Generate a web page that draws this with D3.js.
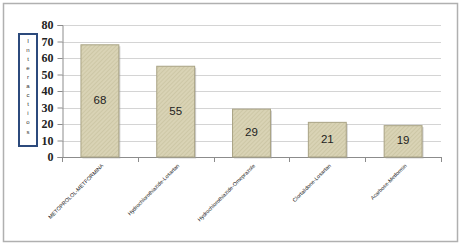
<!DOCTYPE html>
<html><head><meta charset="utf-8">
<script src="https://cdn.jsdelivr.net/npm/d3@7"></script>
<style>body{margin:0;background:#fff}svg{display:block}</style>
</head><body>
<script>
const categories = ["METOPROLOL-METFORMINA","Hydrochlorothiazide-Losartan","Hydrochlorothiazide-Omeprazole","Clortalidone-Losartan","Acarbose-Metformin"];
const values = [68, 55, 29, 21, 19];
const yTicks = [0,10,20,30,40,50,60,70,80];
const yLabelLetters = ["I","n","t","e","r","a","c","t","i","o","s"];

const W=461,H=246;
const svg=d3.select("body").append("svg").attr("width",W).attr("height",H);
const defs=svg.append("defs");
const pat=defs.append("pattern").attr("id","hatch").attr("patternUnits","userSpaceOnUse").attr("width",3).attr("height",3).attr("patternTransform","rotate(45)");
pat.append("rect").attr("width",3).attr("height",3).attr("fill","#d9d3b5");
pat.append("line").attr("x1",0).attr("y1",0).attr("x2",0).attr("y2",3).attr("stroke","#c2bb98").attr("stroke-width",1);

svg.append("rect").attr("x",3.5).attr("y",3.5).attr("width",454).attr("height",238).attr("fill","#fff").attr("stroke","#b0b0b0").attr("stroke-width",1.5);

const x0=62,x1=441,yTop=25,yBot=157;
const x=d3.scaleBand().domain(categories).range([x0,x1]).paddingInner(0.5).paddingOuter(0.25);
const y=d3.scaleLinear().domain([0,80]).range([yBot,yTop]);

// gridlines
svg.append("g").selectAll("line").data(yTicks.filter(d=>d>0)).join("line")
  .attr("x1",x0).attr("x2",x1).attr("y1",d=>Math.round(y(d))+0.5).attr("y2",d=>Math.round(y(d))+0.5)
  .attr("stroke","#d4d4d4").attr("stroke-width",1);

// y axis
const ya=svg.append("g").attr("transform",`translate(${x0+0.5},0)`)
  .call(d3.axisLeft(y).tickValues(yTicks).tickSize(5).tickPadding(4));
ya.select(".domain").attr("stroke","#8c8c8c");
ya.selectAll(".tick line").attr("stroke","#8c8c8c");
ya.selectAll(".tick text").attr("font-family","Liberation Serif, serif").attr("font-size",12).attr("font-weight","bold").attr("fill","#222");

// x axis baseline and category ticks
const xa=svg.append("g");
xa.append("line").attr("x1",x0).attr("x2",x1).attr("y1",yBot+0.5).attr("y2",yBot+0.5).attr("stroke","#8c8c8c");
const bounds=categories.map((c,i)=>x(c)-x.bandwidth()*0.5).concat([x1]);
xa.selectAll("line.t").data(bounds).join("line").attr("class","t")
  .attr("x1",d=>Math.round(d)+0.5).attr("x2",d=>Math.round(d)+0.5).attr("y1",yBot).attr("y2",yBot+5).attr("stroke","#8c8c8c");

// bars shadow
svg.append("g").selectAll("rect").data(values).join("rect")
  .attr("x",(d,i)=>x(categories[i])+1.5).attr("y",d=>y(d)+1.5)
  .attr("width",x.bandwidth()).attr("height",d=>yBot-y(d))
  .attr("fill","#9a9a9a").attr("opacity",0.45);
svg.append("g").selectAll("rect").data(values).join("rect")
  .attr("x",(d,i)=>x(categories[i])).attr("y",d=>y(d))
  .attr("width",x.bandwidth()).attr("height",d=>yBot-y(d))
  .attr("fill","url(#hatch)").attr("stroke","#a9a384").attr("stroke-width",1);

// data labels
svg.append("g").selectAll("text").data(values).join("text")
  .attr("x",(d,i)=>x(categories[i])+x.bandwidth()/2)
  .attr("y",d=>(y(d)+yBot)/2)
  .attr("text-anchor","middle").attr("dominant-baseline","middle")
  .attr("font-family","Liberation Sans, Arial, sans-serif").attr("font-size",11.5).attr("fill","#222")
  .text(d=>d);

// x labels rotated
svg.append("g").attr("opacity",0.99).selectAll("text").data(categories).join("text")
  .attr("transform",c=>`translate(${x(c)+x.bandwidth()/2+3},${yBot+8}) rotate(-45)`)
  .attr("text-anchor","end").attr("dominant-baseline","middle")
  .attr("font-family","Liberation Sans, Arial, sans-serif").attr("font-size",5.4).attr("fill","#222")
  .text(c=>c);

// y label box
svg.append("rect").attr("x",19).attr("y",34).attr("width",18).attr("height",112)
  .attr("fill","#fff").attr("stroke","#2c4a7c").attr("stroke-width",2);
svg.append("g").selectAll("text").data(yLabelLetters).join("text")
  .attr("x",28).attr("y",(d,i)=>41+i*9.1)
  .attr("text-anchor","middle").attr("dominant-baseline","middle")
  .attr("font-family","Liberation Sans, Arial, sans-serif").attr("font-size",6).attr("fill","#333")
  .text(d=>d);
</script>
</body></html>
